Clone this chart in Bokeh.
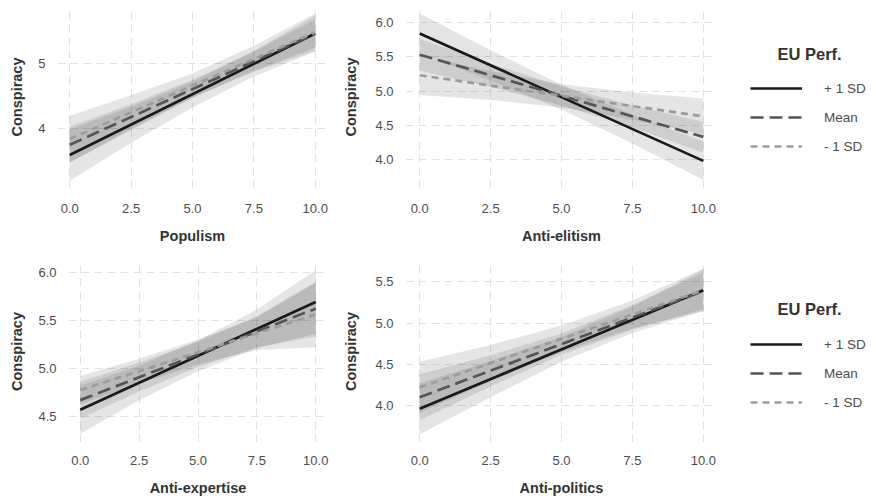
from bokeh.plotting import figure
from bokeh.layouts import column, row
from bokeh.models import (Range1d, FixedTicker, NumeralTickFormatter, Legend,
                          LegendItem, Label)
from bokeh.embed import file_html
from bokeh.resources import INLINE

# Predicted conspiracy scores by predictor, at three levels of EU performance
groups = ["+ 1 SD", "Mean", "- 1 SD"]
x_fit = [0, 10]
x_band = [0, 2.5, 5, 7.5, 10]
x_ticks = [0, 2.5, 5, 7.5, 10]

# Populism
populism_plus_fit = [3.58, 5.47]
populism_plus_lo = [3.18, 3.77, 4.32, 4.80, 5.19]
populism_plus_hi = [3.98, 4.33, 4.72, 5.20, 5.75]
populism_mean_fit = [3.74, 5.47]
populism_mean_lo = [3.46, 3.97, 4.47, 4.89, 5.25]
populism_mean_hi = [4.02, 4.37, 4.75, 5.19, 5.69]
populism_minus_fit = [3.83, 5.49]
populism_minus_lo = [3.47, 3.99, 4.47, 4.88, 5.20]
populism_minus_hi = [4.19, 4.51, 4.85, 5.28, 5.78]
populism_y_ticks = [4, 5]

# Anti-elitism
elitism_plus_fit = [5.84, 3.98]
elitism_plus_lo = [5.55, 5.155, 4.73, 4.235, 3.70]
elitism_plus_hi = [6.13, 5.595, 5.09, 4.655, 4.26]
elitism_mean_fit = [5.53, 4.33]
elitism_mean_lo = [5.30, 5.06, 4.79, 4.47, 4.10]
elitism_mean_hi = [5.76, 5.40, 5.07, 4.79, 4.55]
elitism_minus_fit = [5.23, 4.63]
elitism_minus_lo = [4.94, 4.87, 4.76, 4.58, 4.37]
elitism_minus_hi = [5.52, 5.29, 5.10, 4.98, 4.89]
elitism_y_ticks = [4.0, 4.5, 5.0, 5.5, 6.0]

# Anti-expertise
expertise_plus_fit = [4.57, 5.69]
expertise_plus_lo = [4.32, 4.67, 4.97, 5.21, 5.36]
expertise_plus_hi = [4.82, 5.03, 5.29, 5.61, 6.02]
expertise_mean_fit = [4.67, 5.62]
expertise_mean_lo = [4.48, 4.76, 5.015, 5.22, 5.33]
expertise_mean_hi = [4.86, 5.06, 5.275, 5.54, 5.90]
expertise_minus_fit = [4.775, 5.56]
expertise_minus_lo = [4.63, 4.84, 5.04, 5.19, 5.22]
expertise_minus_hi = [4.92, 5.10, 5.30, 5.53, 5.89]
expertise_y_ticks = [4.5, 5.0, 5.5, 6.0]

# Anti-politics
politics_plus_fit = [3.96, 5.40]
politics_plus_lo = [3.65, 4.10, 4.53, 4.88, 5.15]
politics_plus_hi = [4.27, 4.54, 4.83, 5.20, 5.65]
politics_mean_fit = [4.10, 5.39]
politics_mean_lo = [3.82, 4.23, 4.615, 4.92, 5.17]
politics_mean_hi = [4.38, 4.61, 4.875, 5.22, 5.61]
politics_minus_fit = [4.22, 5.40]
politics_minus_lo = [3.91, 4.295, 4.65, 4.935, 5.14]
politics_minus_hi = [4.53, 4.735, 4.97, 5.275, 5.66]
politics_y_ticks = [4.0, 4.5, 5.0, 5.5]

FONT = "Liberation Sans"
LINE_WIDTH = 2.7
LINE_STYLES = {
    "+ 1 SD": dict(line_color="#1a1a1a", line_dash="solid"),
    "Mean": dict(line_color="#555555", line_dash="13 6"),
    "- 1 SD": dict(line_color="#9c9c9c", line_dash="7 5"),
}


def make_panel(xlabel, fits, los, his, y_range, y_ticks, y_fmt, width, height,
               mb_left, mb_right, mb_top, mb_bottom, ylab_standoff, xtick_standoff):
    p = figure(width=width, height=height, x_range=Range1d(-0.5, 10.5),
               y_range=Range1d(*y_range), output_backend="svg",
               toolbar_location=None, min_border_left=mb_left,
               min_border_right=mb_right, min_border_top=mb_top,
               min_border_bottom=mb_bottom)
    p.outline_line_color = None
    p.background_fill_color = "white"
    p.border_fill_color = "white"

    # confidence ribbons
    for lo, hi in zip(los, his):
        p.varea(x=x_band, y1=lo, y2=hi, fill_color="#333333", fill_alpha=0.13)

    # fitted lines
    for g, fit in zip(groups, fits):
        p.line(x=x_fit, y=fit, line_width=LINE_WIDTH, **LINE_STYLES[g])

    p.xaxis.ticker = FixedTicker(ticks=x_ticks)
    p.xaxis.formatter = NumeralTickFormatter(format="0.0")
    p.yaxis.ticker = FixedTicker(ticks=y_ticks)
    p.yaxis.formatter = NumeralTickFormatter(format=y_fmt)
    p.xaxis.axis_label = xlabel
    p.yaxis.axis_label = "Conspiracy"

    for ax in (p.xaxis[0], p.yaxis[0]):
        ax.axis_line_color = None
        ax.major_tick_line_color = None
        ax.minor_tick_line_color = None
        ax.major_tick_out = 0
        ax.major_tick_in = 0
        ax.major_label_text_font = FONT
        ax.major_label_text_font_size = "13px"
        ax.major_label_text_color = "#4d4d4d"
        ax.axis_label_text_font = FONT
        ax.axis_label_text_font_style = "bold"
        ax.axis_label_text_font_size = "14.5px"
        ax.axis_label_text_color = "#333333"
    p.xaxis.major_label_standoff = xtick_standoff
    p.xaxis.axis_label_standoff = 12
    p.yaxis.major_label_standoff = 12
    p.yaxis.axis_label_standoff = ylab_standoff

    for grid in (p.xgrid[0], p.ygrid[0]):
        grid.grid_line_color = "#e2e2e2"
        grid.grid_line_dash = "8 5"
        grid.grid_line_width = 1.1
    return p


def make_key(width, height, mb_top, mb_bottom, title_y, items_y):
    # a bare canvas that only carries the "EU Perf." key; its frame lines up
    # with the neighbouring panels of the same row
    p = figure(width=width, height=height, output_backend="svg",
               toolbar_location=None, x_axis_location=None, y_axis_location=None,
               min_border_left=0, min_border_right=0, min_border_top=mb_top,
               min_border_bottom=mb_bottom)
    p.outline_line_color = None
    p.xgrid.visible = False
    p.ygrid.visible = False
    p.add_layout(Label(x=60, y=title_y, x_units="screen", y_units="screen",
                       text="EU Perf.", text_font=FONT, text_font_style="bold",
                       text_font_size="16.5px", text_color="#333333",
                       text_baseline="middle", text_align="left"))
    items = []
    for g in groups:
        r = p.line(x=[float("nan")], y=[float("nan")], line_width=LINE_WIDTH,
                   **LINE_STYLES[g])
        items.append(LegendItem(label=g, renderers=[r]))
    legend = Legend(
        items=items, location=(33, items_y),
        padding=10, spacing=9, glyph_width=52, glyph_height=20,
        label_height=20, label_standoff=22, border_line_color=None,
        background_fill_alpha=0, label_text_font=FONT,
        label_text_font_size="13.5px", label_text_color="#4d4d4d",
    )
    p.add_layout(legend)
    return p


p1 = make_panel("Populism",
                [populism_plus_fit, populism_mean_fit, populism_minus_fit],
                [populism_plus_lo, populism_mean_lo, populism_minus_lo],
                [populism_plus_hi, populism_mean_hi, populism_minus_hi],
                (3.06, 5.906), populism_y_ticks, "0",
                340, 250, 57, 13, 5, 62, 10, 15)
p2 = make_panel("Anti-elitism",
                [elitism_plus_fit, elitism_mean_fit, elitism_minus_fit],
                [elitism_plus_lo, elitism_mean_lo, elitism_minus_lo],
                [elitism_plus_hi, elitism_mean_hi, elitism_minus_hi],
                (3.577, 6.248), elitism_y_ticks, "0.0",
                377, 250, 64, 0, 5, 62, 13, 15)
p3 = make_panel("Anti-expertise",
                [expertise_plus_fit, expertise_mean_fit, expertise_minus_fit],
                [expertise_plus_lo, expertise_mean_lo, expertise_minus_lo],
                [expertise_plus_hi, expertise_mean_hi, expertise_minus_hi],
                (4.23, 6.12), expertise_y_ticks, "0.0",
                340, 250, 68, 13, 10, 58, 10, 13)
p4 = make_panel("Anti-politics",
                [politics_plus_fit, politics_mean_fit, politics_minus_fit],
                [politics_plus_lo, politics_mean_lo, politics_minus_lo],
                [politics_plus_hi, politics_mean_hi, politics_minus_hi],
                (3.55, 5.76), politics_y_ticks, "0.0",
                377, 250, 64, 0, 10, 58, 13, 13)

key_top = make_key(159, 250, 5, 62, 135, 32)
key_bottom = make_key(159, 250, 10, 58, 134, 30)

layout = column(row(p1, p2, key_top), row(p3, p4, key_bottom))
open("out.html", "w").write(file_html(layout, INLINE))
